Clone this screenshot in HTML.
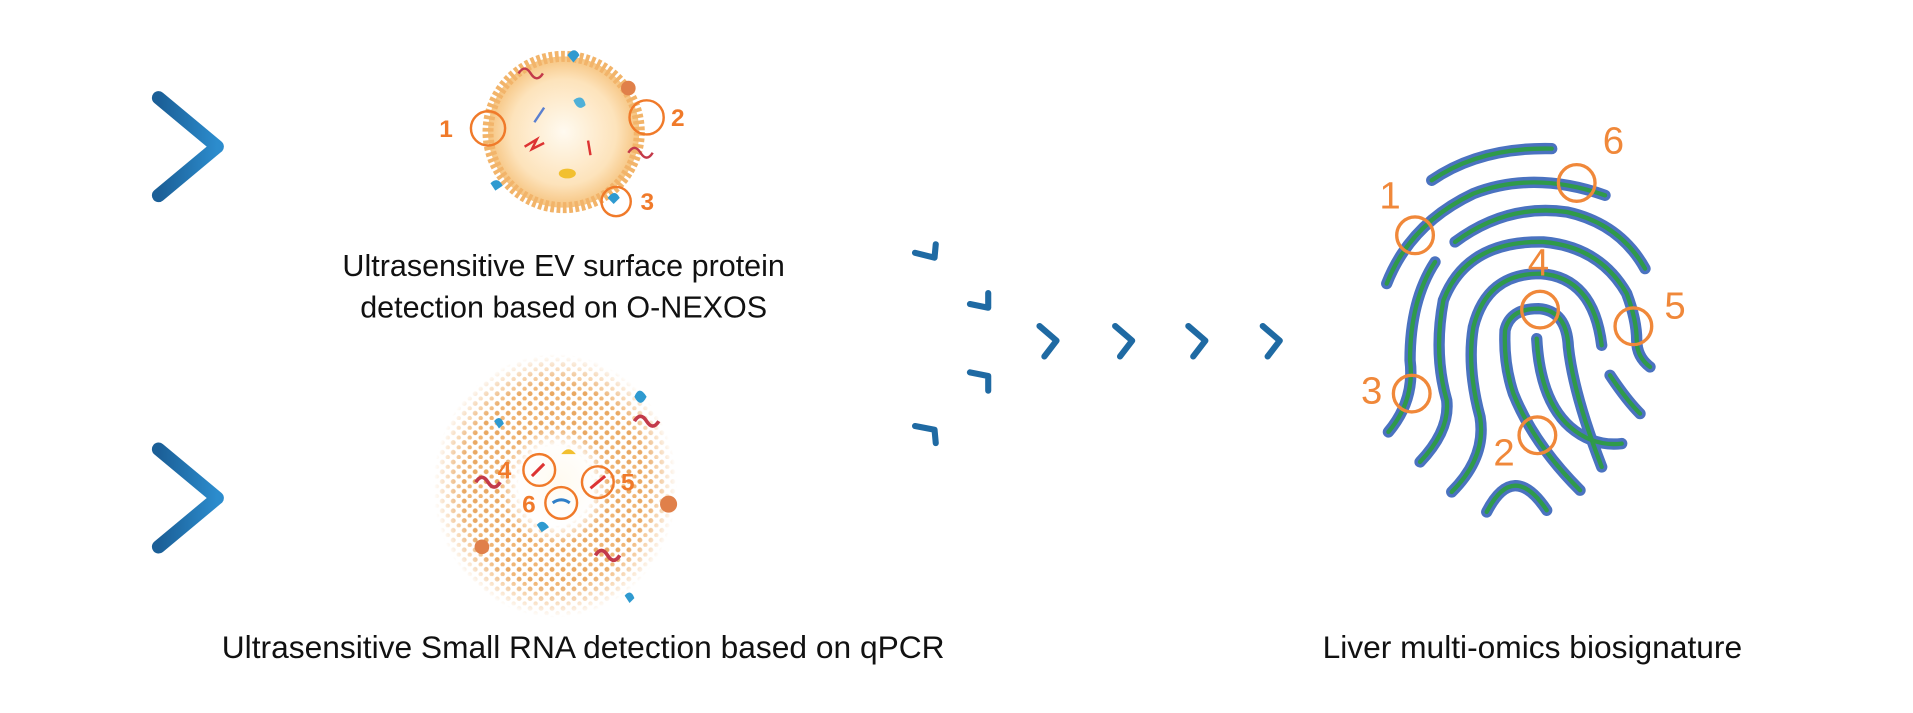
<!DOCTYPE html>
<html><head><meta charset="utf-8"><style>
html,body{margin:0;padding:0;background:#fff;}
svg{display:block;}
text{font-family:"Liberation Sans",Arial,sans-serif;}
</style></head><body>
<svg width="1913" height="713" viewBox="0 0 1568 584" xmlns="http://www.w3.org/2000/svg">
<defs>
<linearGradient id="bl" x1="0" y1="0" x2="1" y2="0"><stop offset="0" stop-color="#1b5f97"/><stop offset="1" stop-color="#2c8ccd"/></linearGradient>
<radialGradient id="ves" cx="0.5" cy="0.5" r="0.5"><stop offset="0" stop-color="#fffaf0"/><stop offset="0.7" stop-color="#fde3bb"/><stop offset="1" stop-color="#f6c37e"/></radialGradient>
<pattern id="dots" width="9" height="8" patternUnits="userSpaceOnUse"><circle cx="2.5" cy="2.5" r="2" fill="#e9a862"/><circle cx="7" cy="6.5" r="1.8" fill="#f0b574"/></pattern>
<radialGradient id="cm" cx="0.5" cy="0.5" r="0.5"><stop offset="0" stop-color="#000"/><stop offset="0.3" stop-color="#000"/><stop offset="0.45" stop-color="#fff"/><stop offset="0.75" stop-color="#fff"/><stop offset="1" stop-color="#000"/></radialGradient>
<mask id="m1"><ellipse cx="455" cy="398" rx="100" ry="108" fill="url(#cm)"/></mask>
<radialGradient id="cen" cx="0.5" cy="0.5" r="0.5"><stop offset="0" stop-color="#fffaf0"/><stop offset="1" stop-color="#fffaf0" stop-opacity="0"/></radialGradient>
</defs>

<g fill="none" stroke="url(#bl)" stroke-width="11" stroke-linecap="round" stroke-linejoin="round">
<path d="M130,80 L178,120 L130,160"/>
<path d="M130,368 L178,408 L130,448"/>
</g>

<g fill="none" stroke="#1f6aa3" stroke-width="5" stroke-linecap="round" stroke-linejoin="round">
<path d="M750,207 L766,211 L767,200"/>
<path d="M795,249 L810,252 L810,240"/>
<path d="M795,305 L810,308 L810,320"/>
<path d="M750,349 L766,352 L767,363"/>
<path d="M852,267 L866,279 L856,292"/>
<path d="M914,267 L928,279 L918,292"/>
<path d="M974,267 L988,279 L978,292"/>
<path d="M1035,267 L1049,279 L1039,292"/>
</g>

<g>
<circle cx="462" cy="108" r="62" fill="url(#ves)" stroke="#f2b46a" stroke-width="9" stroke-dasharray="3 2"/>
<path d="M430,120 l10,-6 l-4,8 l10,-5" stroke="#d33" stroke-width="2" fill="none"/>
<path d="M438,100 l8,-12" stroke="#5a7fd0" stroke-width="2"/>
<path d="M482,115 l2,12" stroke="#d33" stroke-width="2"/>
<ellipse cx="465" cy="142" rx="7" ry="4" fill="#f2c030"/>
<path d="M470,82 q8,-6 10,4 q-6,6 -10,-4z" fill="#4fb0d8"/>
<path d="M465,45 q6,-8 10,0 l-5,6z" fill="#2f9ad0"/>
<path d="M425,60 q5,-8 10,0 q5,8 10,0" stroke="#c33a4a" stroke-width="2" fill="none"/>
<path d="M515,125 q5,-8 10,0 q5,8 10,0" stroke="#c33a4a" stroke-width="2" fill="none"/>
<path d="M402,150 q6,-6 10,2 l-6,4z" fill="#2f9ad0"/>
<path d="M498,162 q6,-8 10,0 l-5,5z" fill="#2f9ad0"/>
<circle cx="515" cy="72" r="6" fill="#e0804a"/>
<g fill="none" stroke="#f07a2a" stroke-width="2"><circle cx="400" cy="105" r="14"/><circle cx="530" cy="96" r="14"/><circle cx="505" cy="165" r="12"/></g>
<g fill="#f07a2a" font-size="20" font-weight="bold"><text x="360" y="112">1</text><text x="550" y="103">2</text><text x="525" y="172">3</text></g>
</g>
<text x="462" y="226" font-size="25" text-anchor="middle" fill="#111">Ultrasensitive EV surface protein</text>
<text x="462" y="260" font-size="25" text-anchor="middle" fill="#111">detection based on O-NEXOS</text>

<rect x="350" y="285" width="210" height="225" fill="url(#dots)" mask="url(#m1)"/>
<ellipse cx="458" cy="395" rx="35" ry="35" fill="url(#cen)"/>
<path d="M460,372 q6,-8 12,0z" fill="#f2c030"/>
<path d="M520,325 q4,-10 10,0 q-5,10 -10,0z" fill="#2f9ad0"/>
<path d="M520,345 q5,-8 10,0 q5,8 10,0" stroke="#c33a4a" stroke-width="3" fill="none"/>
<path d="M390,395 q5,-8 10,0 q5,8 10,0" stroke="#c33a4a" stroke-width="3" fill="none"/>
<path d="M488,455 q5,-8 10,0 q5,8 10,0" stroke="#c33a4a" stroke-width="3" fill="none"/>
<circle cx="548" cy="413" r="7" fill="#e0804a"/>
<circle cx="395" cy="448" r="6" fill="#e0804a"/>
<path d="M405,345 q5,-6 8,2 l-4,4z" fill="#2f9ad0"/>
<path d="M440,430 q5,-6 10,2 l-6,4z" fill="#2f9ad0"/>
<path d="M512,488 q5,-6 8,2 l-4,4z" fill="#2f9ad0"/>
<g fill="none" stroke="#f07a2a" stroke-width="2"><circle cx="442" cy="385" r="13"/><circle cx="490" cy="395" r="13"/><circle cx="460" cy="412" r="13"/></g>
<path d="M436,390 l10,-10" stroke="#d33" stroke-width="2.5"/>
<path d="M484,400 l12,-10" stroke="#d33" stroke-width="2.5"/>
<path d="M453,412 q7,-5 14,0" stroke="#2f7fc8" stroke-width="2.5" fill="none"/>
<g fill="#f07a2a" font-size="20" font-weight="bold"><text x="408" y="392">4</text><text x="509" y="402">5</text><text x="428" y="420">6</text></g>
<text x="478" y="539" font-size="26" text-anchor="middle" fill="#111">Ultrasensitive Small RNA detection based on qPCR</text>
<text x="1256" y="539" font-size="26" text-anchor="middle" fill="#111">Liver multi-omics biosignature</text>

<g transform="translate(1065.6,82) scale(0.2732)">
<g fill="none" stroke-linecap="round">
<g stroke="#4a72c0" stroke-width="34">
<path d="M395,240 Q540,140 755,145"/>
<path d="M260,550 Q330,370 520,280 Q700,210 915,285"/>
<path d="M465,425 Q620,310 800,335 Q960,370 1035,505"/>
<path d="M405,485 Q330,600 330,780 Q345,900 265,995"/>
<path d="M360,1085 Q450,990 440,900 Q400,760 430,600 Q500,420 730,425 Q900,440 980,580 Q1010,660 1010,720 Q1010,770 1050,800"/>
<path d="M455,1175 Q560,1070 540,950 Q500,800 520,680 Q560,520 720,520 Q880,530 905,735"/>
<path d="M840,1170 Q700,1030 640,880 Q610,790 615,690 Q630,625 715,625 Q800,630 805,740 Q820,880 905,1100"/>
<path d="M710,715 Q720,900 810,980 Q880,1040 965,1030"/>
<path d="M930,825 Q980,900 1020,940"/>
<path d="M560,1235 Q640,1080 740,1230"/>
</g>
<g stroke="#2f9a4a" stroke-width="13">
<path d="M395,240 Q540,140 755,145"/>
<path d="M260,550 Q330,370 520,280 Q700,210 915,285"/>
<path d="M465,425 Q620,310 800,335 Q960,370 1035,505"/>
<path d="M405,485 Q330,600 330,780 Q345,900 265,995"/>
<path d="M360,1085 Q450,990 440,900 Q400,760 430,600 Q500,420 730,425 Q900,440 980,580 Q1010,660 1010,720 Q1010,770 1050,800"/>
<path d="M455,1175 Q560,1070 540,950 Q500,800 520,680 Q560,520 720,520 Q880,530 905,735"/>
<path d="M840,1170 Q700,1030 640,880 Q610,790 615,690 Q630,625 715,625 Q800,630 805,740 Q820,880 905,1100"/>
<path d="M710,715 Q720,900 810,980 Q880,1040 965,1030"/>
<path d="M930,825 Q980,900 1020,940"/>
<path d="M560,1235 Q640,1080 740,1230"/>
</g>
<g stroke="#f0883a" stroke-width="10">
<circle cx="345" cy="405" r="55"/><circle cx="830" cy="248" r="55"/><circle cx="720" cy="628" r="55"/>
<circle cx="1000" cy="678" r="55"/><circle cx="335" cy="880" r="55"/><circle cx="712" cy="1005" r="55"/>
</g>
</g>
<g fill="#f0883a" font-size="115" text-anchor="middle">
<text x="270" y="325">1</text><text x="940" y="160">6</text><text x="715" y="525">4</text>
<text x="1125" y="655">5</text><text x="215" y="910">3</text><text x="612" y="1095">2</text>
</g>
</g>
</svg>
</body></html>
